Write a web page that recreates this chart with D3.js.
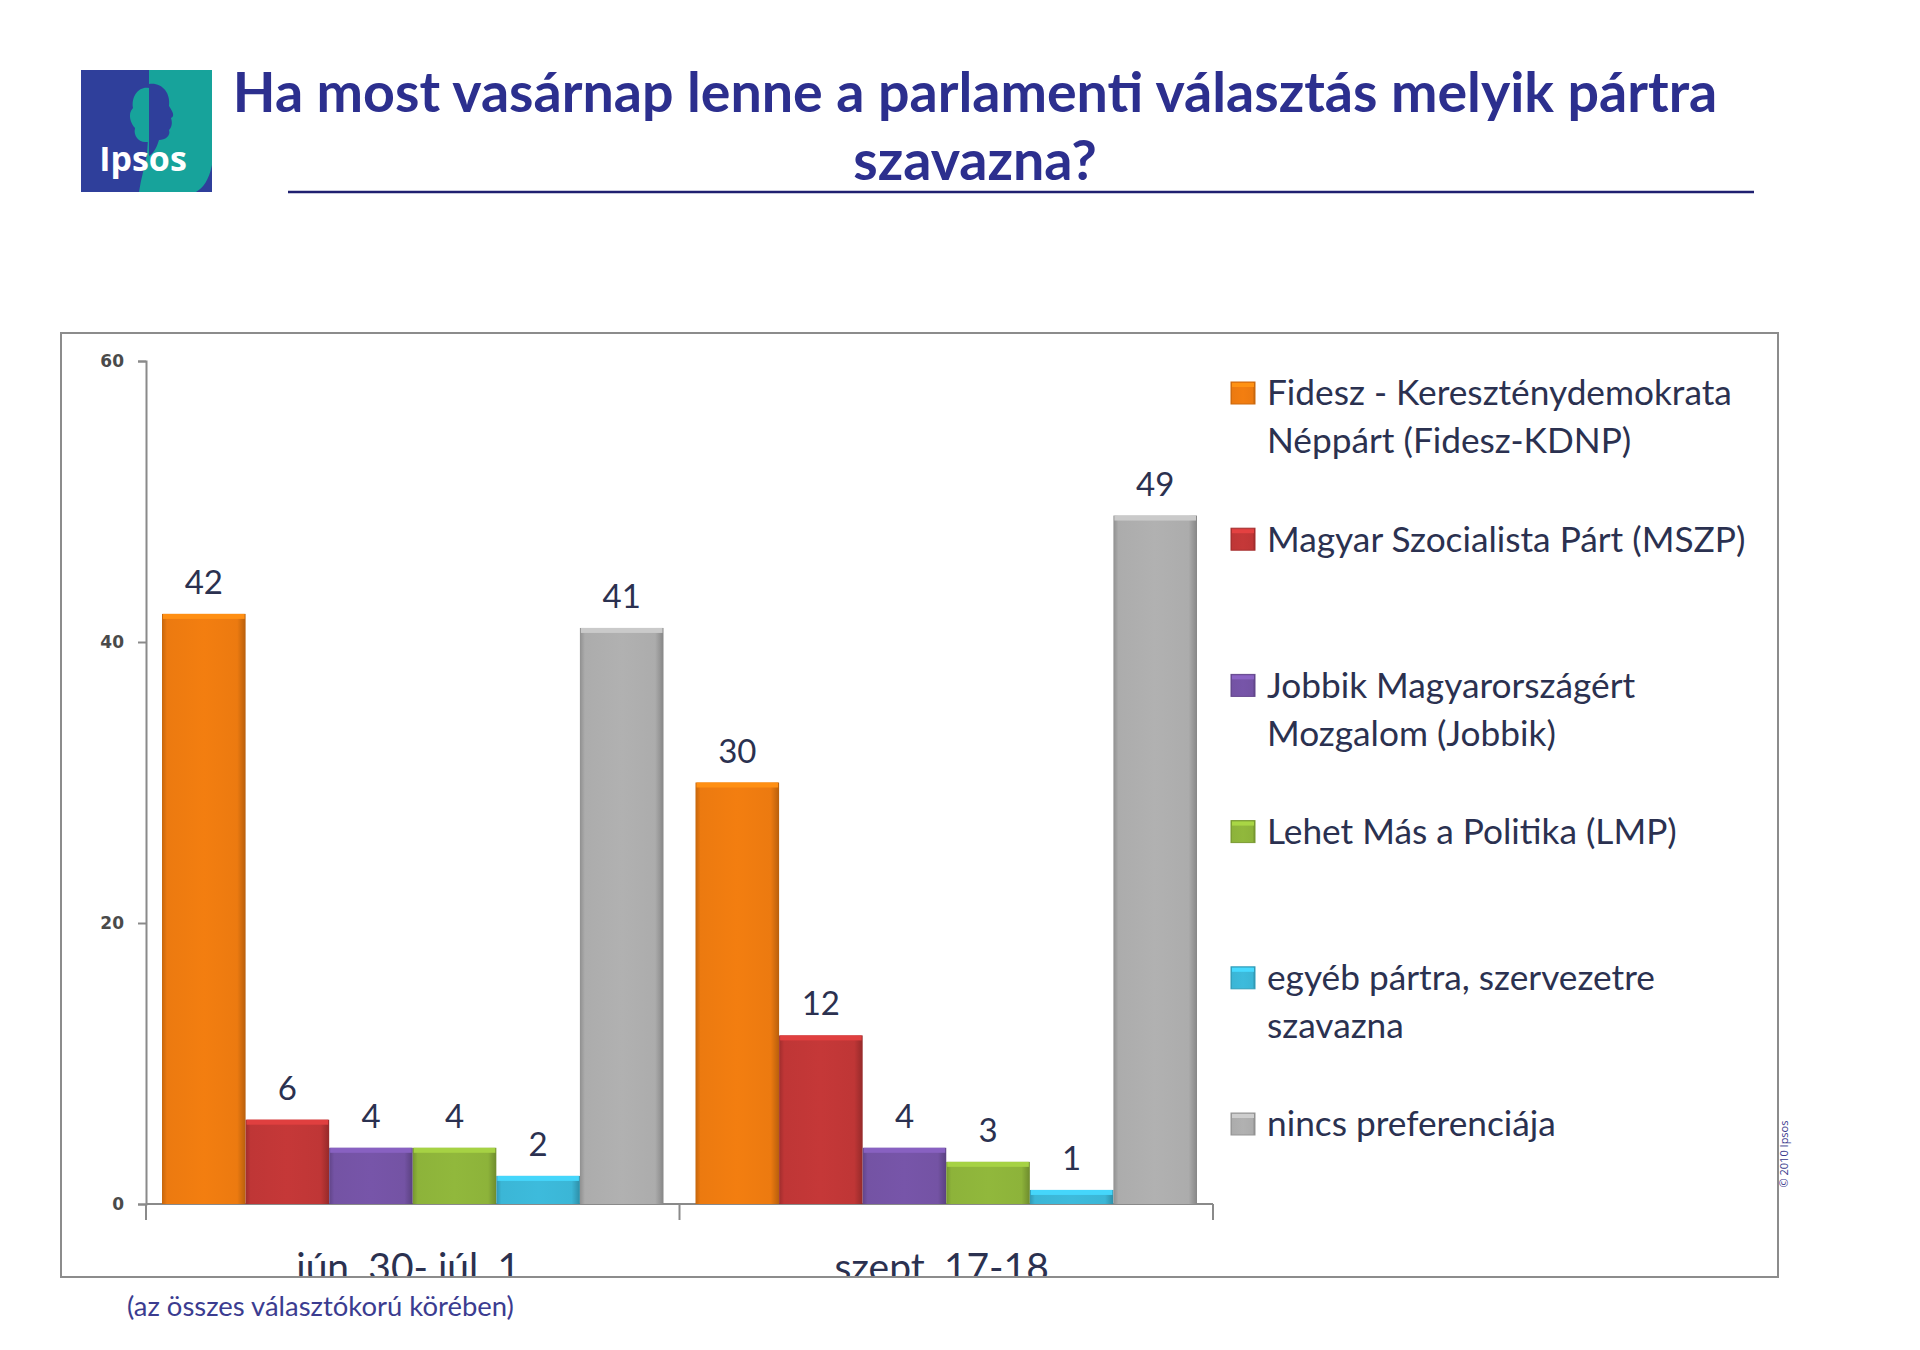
<!DOCTYPE html>
<html><head><meta charset="utf-8">
<script src="https://cdn.jsdelivr.net/npm/d3@7"></script>
<style>body{margin:0;background:#fff}svg{display:block}</style>
</head><body>
<script>
const titleLines = ["Ha most vasárnap lenne a parlamenti választás melyik pártra", "szavazna?"];
const categories = ["jún. 30- júl. 1.", "szept. 17-18."];
const seriesNames = [
  ["Fidesz - Kereszténydemokrata", "Néppárt (Fidesz-KDNP)"],
  ["Magyar Szocialista Párt (MSZP)"],
  ["Jobbik Magyarországért", "Mozgalom (Jobbik)"],
  ["Lehet Más a Politika (LMP)"],
  ["egyéb pártra, szervezetre", "szavazna"],
  ["nincs preferenciája"]
];
const fidesz = [42, 30];
const mszp = [6, 12];
const jobbik = [4, 4];
const lmp = [4, 3];
const egyeb = [2, 1];
const nincs = [41, 49];
const seriesValues = [fidesz, mszp, jobbik, lmp, egyeb, nincs];
const seriesColors = ["#EC7A10", "#BF3636", "#7453A4", "#8DB33A", "#3BB6D6", "#ACACAC"];
const yTicks = [0, 20, 40, 60];
const footnote = "(az összes választókorú körében)";
const copyright = "© 2010 Ipsos";

const W = 1920, H = 1350;
const svg = d3.select("body").append("svg").attr("width", W).attr("height", H);
const defs = svg.append("defs");
const FONT = "Lato, 'Open Sans', sans-serif";
const NAVY = "#2C2F8E";
const TXT = "#2B3150";

function fit(sel, target) {
  const w = sel.node().getComputedTextLength();
  const fs = parseFloat(sel.attr("font-size"));
  sel.attr("font-size", fs * target / w);
  return fs * target / w;
}

// gradients for bevel
seriesColors.forEach((c, i) => {
  const base = d3.color(c);
  const g = defs.append("linearGradient").attr("id", "g" + i).attr("x1", 0).attr("x2", 1).attr("y1", 0).attr("y2", 0);
  g.append("stop").attr("offset", 0).attr("stop-color", base.darker(0.5));
  g.append("stop").attr("offset", 0.06).attr("stop-color", base);
  g.append("stop").attr("offset", 0.5).attr("stop-color", base.brighter(0.08));
  g.append("stop").attr("offset", 0.9).attr("stop-color", base);
  g.append("stop").attr("offset", 1).attr("stop-color", base.darker(0.7));
});

// ---- Logo ----
const logo = svg.append("g").attr("transform", "translate(81,70)");
logo.append("rect").attr("width", 131).attr("height", 122).attr("fill", "#2F3F9B");
logo.append("path").attr("d", "M68,0 L131,0 L131,95 C128,110 122,118 115,122 L58,122 C60,108 64,96 66,84 C68,60 68,30 68,0 Z").attr("fill", "#17A39B");
// back of head (teal, into blue side)
logo.append("path").attr("d", "M68,18 C58,16 50,26 52,38 C46,44 50,54 54,58 C52,66 58,72 64,72 L68,72 Z").attr("fill", "#17A39B");
// face profile (blue, into teal side)
logo.append("path").attr("d", "M68,14 C80,12 90,22 88,36 C92,42 94,46 90,48 C92,54 90,58 88,60 C90,66 84,70 78,70 C76,76 74,82 68,86 Z").attr("fill", "#2F3F9B");
logo.append("text").attr("x", 62).attr("y", 101).attr("text-anchor", "middle")
  .attr("font-family", "'Open Sans', sans-serif").attr("font-weight", 700).attr("font-size", 34)
  .attr("fill", "#fff").text("Ipsos");

// ---- Title ----
const t1 = svg.append("text").attr("x", 975).attr("y", 112).attr("text-anchor", "middle")
  .attr("font-family", FONT).attr("font-weight", 700).attr("font-size", 44).attr("fill", NAVY).text(titleLines[0]);
const tfs = fit(t1, 1485);
svg.append("text").attr("x", 975).attr("y", 180).attr("text-anchor", "middle")
  .attr("font-family", FONT).attr("font-weight", 700).attr("font-size", tfs).attr("fill", NAVY).text(titleLines[1]);
svg.append("line").attr("x1", 288).attr("x2", 1754).attr("y1", 192).attr("y2", 192)
  .attr("stroke", "#1F2070").attr("stroke-width", 2.5);

// ---- Chart box ----
const box = {x: 61, y: 333, w: 1717, h: 944};
defs.append("clipPath").attr("id", "boxclip").append("rect")
  .attr("x", box.x).attr("y", box.y).attr("width", box.w).attr("height", box.h);
const plot = svg.append("g").attr("clip-path", "url(#boxclip)");

const x0 = d3.scaleBand().domain(categories).range([146, 1213]).paddingInner(0.06).paddingOuter(0.03);
const x1 = d3.scaleBand().domain(d3.range(6)).range([0, x0.bandwidth()]).padding(0);
const y = d3.scaleLinear().domain([0, 60]).range([1204, 361]);

// y axis
const yAxis = d3.axisLeft(y).tickValues(yTicks).tickSize(8).tickPadding(14);
const ya = plot.append("g").attr("transform", "translate(146,0)").call(yAxis);
ya.select(".domain").attr("stroke", "#8A8A8A").attr("stroke-width", 2);
ya.selectAll(".tick line").attr("stroke", "#8A8A8A").attr("stroke-width", 2);
ya.selectAll(".tick text").attr("font-family", "'DejaVu Sans', Verdana, sans-serif").attr("font-weight", 700)
  .attr("font-size", 17).attr("fill", "#4A4A4A");

// x axis
const xBand = d3.scaleBand().domain(categories).range([146, 1213]);
const xa = plot.append("g").attr("transform", "translate(0,1204)");
xa.append("line").attr("x1", 146).attr("x2", 1213).attr("stroke", "#8A8A8A").attr("stroke-width", 2);
const bounds = [146].concat(categories.map(c => xBand(c) + xBand.bandwidth()));
xa.selectAll("line.t").data(bounds).join("line").attr("class", "t")
  .attr("x1", d => d).attr("x2", d => d).attr("y1", 0).attr("y2", 16)
  .attr("stroke", "#8A8A8A").attr("stroke-width", 2);

// bars
const groups = plot.selectAll("g.grp").data(categories).join("g").attr("class", "grp")
  .attr("transform", c => `translate(${x0(c)},0)`);
groups.each(function(c, ci) {
  const g = d3.select(this);
  seriesValues.forEach((vals, si) => {
    const v = vals[ci];
    const bx = x1(si), bw = x1.bandwidth();
    g.append("rect").attr("x", bx).attr("y", y(v)).attr("width", bw).attr("height", y(0) - y(v))
      .attr("fill", `url(#g${si})`);
    g.append("rect").attr("x", bx + 1).attr("y", y(v)).attr("width", bw - 2).attr("height", Math.min(5, y(0) - y(v)))
      .attr("fill", d3.color(seriesColors[si]).brighter(0.45));
    g.append("text").attr("x", bx + bw / 2).attr("y", y(v) - 20).attr("text-anchor", "middle")
      .attr("font-family", FONT).attr("font-size", 33).attr("fill", TXT).text(v);
  });
});

// category labels (clipped by box)
const catLabels = plot.selectAll("text.cat").data(categories).join("text").attr("class", "cat")
  .attr("x", c => xBand(c) + xBand.bandwidth() / 2).attr("y", 1281).attr("text-anchor", "middle")
  .attr("font-family", FONT).attr("font-size", 34).attr("fill", TXT).text(c => c);
const cfs = fit(d3.select(catLabels.nodes()[0]), 233);
catLabels.attr("font-size", cfs);

// legend
const ly = d3.scaleLinear().domain([0, 5]).range([393, 1124]);
const leg = plot.append("g");
seriesNames.forEach((lines, i) => {
  const c = d3.color(seriesColors[i]);
  leg.append("rect").attr("x", 1231).attr("y", ly(i) - 11).attr("width", 24).attr("height", 22)
    .attr("fill", `url(#g${i})`).attr("stroke", c.darker(0.4)).attr("stroke-width", 1);
  leg.append("rect").attr("x", 1232).attr("y", ly(i) - 10).attr("width", 22).attr("height", 4)
    .attr("fill", c.brighter(0.5));
  lines.forEach((ln, k) => {
    leg.append("text").attr("class", "lg").attr("x", 1267).attr("y", ly(i) + k * 48)
      .attr("dy", "0.35em").attr("font-family", FONT).attr("font-size", 32).attr("fill", TXT).text(ln);
  });
});
const lfs = fit(leg.select("text.lg"), 465);
leg.selectAll("text.lg").attr("font-size", lfs);

svg.append("rect").attr("x", box.x).attr("y", box.y).attr("width", box.w).attr("height", box.h)
  .attr("fill", "none").attr("stroke", "#8C8C8C").attr("stroke-width", 2);

// copyright vertical
svg.append("text").attr("transform", "translate(1788,1154) rotate(-90)").attr("text-anchor", "middle")
  .attr("font-family", "'Open Sans', sans-serif").attr("font-size", 11).attr("fill", "#3A3A8C").text(copyright);

// footnote
const fn = svg.append("text").attr("x", 127).attr("y", 1316)
  .attr("font-family", FONT).attr("font-size", 24).attr("fill", "#3B3C90").text(footnote);
fit(fn, 387);
</script>
</body></html>
